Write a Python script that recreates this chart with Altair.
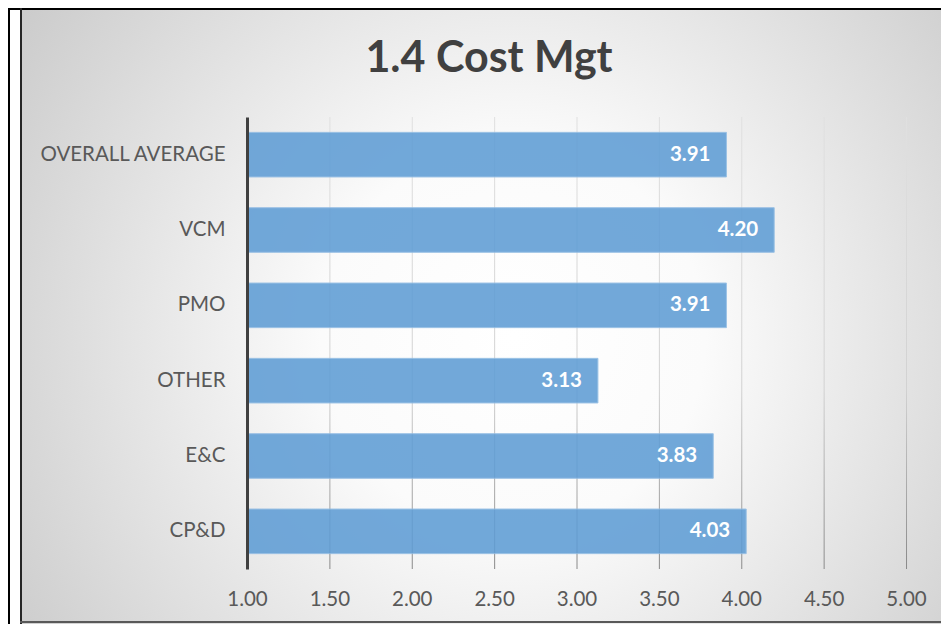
import altair as alt
import pandas as pd

categories = ["OVERALL AVERAGE", "VCM", "PMO", "OTHER", "E&C", "CP&D"]
values = [3.91, 4.20, 3.91, 3.13, 3.83, 4.03]
x_ticks = [1.0, 1.5, 2.0, 2.5, 3.0, 3.5, 4.0, 4.5, 5.0]
grid_values = [1.5, 2.0, 2.5, 3.0, 3.5, 4.0, 4.5, 5.0]
title_text = "1.4 Cost Mgt"

W, H = 659, 452
FONT = "Lato"

df = pd.DataFrame({"category": categories, "value": values})
grid_df = pd.DataFrame({"g": grid_values})
title_df = pd.DataFrame({"t": [title_text]})

xscale = alt.Scale(domain=[1, 5], nice=False, zero=False)
yscale = alt.Scale(domain=categories, paddingInner=0.408, paddingOuter=0.204)

x_axis = alt.Axis(
    values=x_ticks, format=".2f", domain=False, ticks=False, grid=False,
    labelFontSize=20.5, labelColor="#595959", labelFont=FONT, labelFlush=False,
    labelPadding=20, title=None, zindex=1,
)

bg = alt.Chart(title_df).mark_rect(
    fill=alt.RadialGradient(
        gradient="radial",
        stops=[
            alt.GradientStop(color="#ffffff", offset=0),
            alt.GradientStop(color="#fbfbfb", offset=0.28),
            alt.GradientStop(color="#c0c0c0", offset=1),
        ],
        x1=0.53, y1=0.52, r1=0, x2=0.53, y2=0.52, r2=0.74,
    )
).encode(
    x=alt.value(-225), x2=alt.value(702), y=alt.value(-109), y2=alt.value(512)
)

grid = alt.Chart(grid_df).transform_calculate(
    g2="datum.g + 0.0062"
).mark_rect(
    fill=alt.LinearGradient(
        gradient="linear",
        stops=[
            alt.GradientStop(color="#e0e0e0", offset=0),
            alt.GradientStop(color="#d2d2d2", offset=0.6),
            alt.GradientStop(color="#8a8a8a", offset=1),
        ],
        x1=0, y1=0, x2=0, y2=1,
    )
).encode(
    x=alt.X("g:Q", scale=xscale, axis=x_axis),
    x2="g2:Q",
    y=alt.value(0),
    y2=alt.value(H),
)

bars = alt.Chart(df).mark_bar(
    color="#5f9dd5", opacity=0.88, stroke="#8fbbe3", strokeWidth=1
).encode(
    x=alt.X("value:Q", scale=xscale, axis=x_axis),
    x2=alt.datum(1),
    y=alt.Y(
        "category:N",
        scale=yscale,
        sort=categories,
        axis=alt.Axis(
            domain=True, domainColor="#404040", domainWidth=3, ticks=False,
            grid=False, labelFontSize=20.5, labelColor="#595959", labelFont=FONT,
            labelPadding=22, labelLimit=400, title=None, zindex=1,
        ),
    ),
)

labels = alt.Chart(df).mark_text(
    align="right", baseline="middle", dx=-16, color="white",
    fontWeight="bold", fontSize=20.5, font=FONT,
).encode(
    x=alt.X("value:Q", scale=xscale),
    y=alt.Y("category:N", scale=yscale, sort=categories),
    text=alt.Text("value:Q", format=".2f"),
)

title = alt.Chart(title_df).mark_text(
    align="center", baseline="alphabetic", fontSize=43, fontWeight="bold",
    color="#404040", font=FONT,
).encode(text="t:N", x=alt.value(242), y=alt.value(-45))

outer_left = alt.Chart(title_df).mark_rule(color="black", strokeWidth=2).encode(
    x=alt.value(-238), y=alt.value(-109), y2=alt.value(520)
)
outer_top = alt.Chart(title_df).mark_rule(color="black", strokeWidth=2).encode(
    x=alt.value(-239), x2=alt.value(702), y=alt.value(-108)
)
inner_left = alt.Chart(title_df).mark_rule(color="#262626", strokeWidth=2).encode(
    x=alt.value(-226), y=alt.value(-109), y2=alt.value(514)
)
inner_bottom = alt.Chart(title_df).mark_rule(color="#595959", strokeWidth=2).encode(
    x=alt.value(-227), x2=alt.value(702), y=alt.value(505)
)

chart = alt.layer(
    bg, grid, bars, labels, title, outer_left, outer_top, inner_left, inner_bottom
).properties(
    width=W,
    height=H,
    autosize=alt.AutoSizeParams(type="none"),
    padding={"left": 239, "top": 109, "right": 35, "bottom": 55},
    background="white",
).configure_view(stroke=None)

chart.save("out.html", embed_options={"renderer": "svg", "actions": False})
